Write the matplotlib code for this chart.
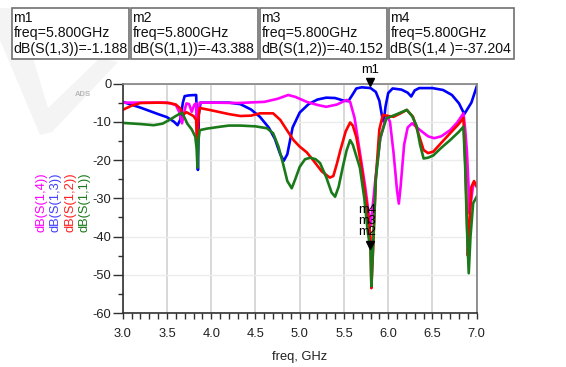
import matplotlib
matplotlib.use("Agg")
import matplotlib.pyplot as plt
from matplotlib.patches import Rectangle, Polygon
from matplotlib.transforms import offset_copy

plt.rcParams['font.family'] = ['Liberation Sans', 'DejaVu Sans']

# S(1,3) - blue
f13 = [3.0, 3.2, 3.4, 3.5, 3.58, 3.62, 3.65, 3.68, 3.70, 3.75, 3.83, 3.84, 3.85, 3.86, 3.88,
       4.0, 4.2, 4.33, 4.45, 4.55, 4.65, 4.72, 4.78, 4.82, 4.86, 4.92, 5.0, 5.1, 5.2, 5.3,
       5.4, 5.5, 5.55, 5.6, 5.64, 5.7, 5.8, 5.86, 5.9, 5.93, 5.95, 5.97, 6.0, 6.05, 6.15,
       6.22, 6.26, 6.30, 6.35, 6.5, 6.62, 6.72, 6.8, 6.86, 6.9, 6.94, 7.0]
s13 = [-4.8, -6.3, -8.0, -8.8, -10.0, -10.9, -9.5, -5.0, -3.3, -3.1, -3.0, -10, -22.6, -8, -5.0,
       -5.0, -5.0, -5.4, -6.8, -8.7, -11.5, -14.5, -18.5, -20.2, -18.5, -11.5, -7.6, -5.4, -4.2, -3.7,
       -3.8, -4.5, -4.6, -2.8, -1.3, -1.0, -1.19, -2.2, -4.5, -8.5, -10.0, -6.0, -2.5, -1.3, -1.6,
       -2.4, -3.4, -1.8, -1.2, -1.2, -1.7, -3.0, -5.2, -8.0, -6.5, -5.0, -0.8]

# S(1,4) - magenta
f14 = [3.0, 3.2, 3.5, 3.6, 3.64, 3.67, 3.70, 3.72, 3.75, 3.78, 3.81, 3.83, 3.84, 3.855, 3.87,
       4.0, 4.3, 4.6, 4.75, 4.87, 4.95, 5.08, 5.2, 5.3, 5.42, 5.53, 5.57, 5.62, 5.66, 5.70,
       5.74, 5.78, 5.80, 5.82, 5.86, 5.91, 5.96, 5.99, 6.02, 6.06, 6.10, 6.12, 6.14, 6.18, 6.22,
       6.27, 6.35, 6.45, 6.52, 6.6, 6.7, 6.78, 6.85, 6.87, 6.89, 6.91, 6.92, 6.94, 6.96, 7.0]
s14 = [-5.0, -5.0, -5.0, -5.6, -7.5, -10.4, -7.0, -5.2, -5.4, -7.4, -5.5, -5.2, -14, -8, -5.0,
       -5.0, -5.1, -4.8, -4.0, -3.0, -3.5, -4.8, -5.6, -6.1, -5.5, -4.3, -4.8, -9, -15, -21,
       -27, -34, -37.2, -33, -24, -14.5, -10.0, -8.5, -10, -18, -28, -31.4, -27, -16, -11.5,
       -10.4, -12, -13.8, -14.3, -13.8, -12.2, -10.2, -7.8, -12, -18, -28, -34, -30, -26.6, -26]

# S(1,2) - red
f12 = [3.0, 3.1, 3.2, 3.4, 3.53, 3.6, 3.65, 3.68, 3.72, 3.76, 3.80, 3.83, 3.84, 3.855, 3.87,
       4.0, 4.2, 4.33, 4.45, 4.55, 4.70, 4.78, 4.85, 4.93, 5.0, 5.08, 5.15, 5.25, 5.34, 5.38,
       5.42, 5.46, 5.52, 5.57, 5.60, 5.64, 5.70, 5.76, 5.79, 5.80, 5.81, 5.83, 5.86, 5.9, 5.94,
       6.0, 6.06, 6.14, 6.21, 6.28, 6.34, 6.40, 6.45, 6.51, 6.6, 6.7, 6.8, 6.85, 6.87, 6.89,
       6.90, 6.92, 6.94, 6.97, 7.0]
s12 = [-6.9, -5.8, -5.1, -5.0, -5.1, -5.5, -6.5, -8.2, -7.5, -8.0, -8.5, -9.5, -15, -9, -6.4,
       -7.0, -8.0, -8.5, -8.4, -7.8, -7.8, -9.5, -12, -14.8, -16.5, -18, -20, -23, -24.6, -24.2,
       -21, -17.4, -12.5, -10.2, -11, -14, -22, -32, -38, -40.2, -53.5, -43, -25, -12, -8.2,
       -8.5, -8.7, -7.8, -6.9, -8.7, -13, -17.4, -18.2, -17.8, -15.5, -13, -10.5, -9.0, -20, -35,
       -45, -36, -27, -25.5, -27]

# S(1,1) - green
f11 = [3.0, 3.2, 3.35, 3.45, 3.53, 3.6, 3.67, 3.70, 3.73, 3.78, 3.82, 3.835, 3.845, 3.855, 3.87,
       3.95, 4.1, 4.2, 4.33, 4.5, 4.63, 4.70, 4.76, 4.81, 4.86, 4.91, 4.95, 5.0, 5.06, 5.12,
       5.18, 5.23, 5.30, 5.36, 5.40, 5.44, 5.49, 5.53, 5.57, 5.60, 5.64, 5.68, 5.73, 5.77, 5.80,
       5.81, 5.83, 5.86, 5.91, 5.98, 6.1, 6.21, 6.27, 6.32, 6.36, 6.40, 6.45, 6.51, 6.6, 6.7,
       6.8, 6.85, 6.87, 6.89, 6.91, 6.93, 6.96, 7.0]
s11 = [-10.3, -10.6, -10.9, -10.5, -9.5, -8.5, -7.6, -9, -10.5, -12.0, -13.9, -17, -22, -15, -12.2,
       -11.8, -11.3, -11.0, -11.0, -11.2, -11.7, -13, -16.5, -20.8, -25.5, -27.4, -25, -21.8, -19.8, -19.4,
       -19.8, -20.8, -24.5, -28.5, -29.6, -27, -21.5, -17.5, -14.8, -16, -19, -22, -30, -39, -43.4,
       -53, -42, -25, -14.2, -9.1, -8.0, -6.9, -8.5, -11, -16, -19.6, -19.4, -18.8, -16.8, -14.8,
       -12.6, -11.3, -22, -38, -49.6, -40, -31.3, -29.6]

marker_freq = 5.8
marker_names = ['m1', 'm2', 'm3', 'm4']
marker_traces = ['dB(S(1,3))', 'dB(S(1,1))', 'dB(S(1,2))', 'dB(S(1,4 )']
marker_values = [-1.188, -43.388, -40.152, -37.204]

fig = plt.figure(figsize=(5.66, 3.67), dpi=100)
W, H = 566, 367

def fx(px):
    return px / W

def fy(py):
    return 1 - py / H

# faint watermark shape in the corner
wm = Polygon([(fx(0), fy(8)), (fx(0), fy(40)), (fx(40), fy(135)), (fx(52), fy(132)),
              (fx(118), fy(62)), (fx(100), fy(58)), (fx(48), fy(108)), (fx(18), fy(8))],
             closed=True, transform=fig.transFigure, facecolor='#f4f4f4', edgecolor='none', zorder=0)
fig.add_artist(wm)

ax = fig.add_axes([fx(122.7), fy(313), (476.7 - 122.7) / W, (313 - 83.5) / H])

ax.plot(f13, s13, color='#0000ff', lw=1.9)
ax.plot(f14, s14, color='#ff00ff', lw=1.9)
ax.plot(f12, s12, color='#ff0000', lw=1.9)
ax.plot(f11, s11, color='#1a7a1a', lw=1.9)

ax.set_xlim(3.0, 7.0)
ax.set_ylim(-60, 0)
ax.set_xticks([3.0, 3.5, 4.0, 4.5, 5.0, 5.5, 6.0, 6.5, 7.0])
ax.set_xticks([3.0 + 0.1 * i for i in range(41)], minor=True)
ax.set_yticks([0, -10, -20, -30, -40, -50, -60])
ax.set_yticks([-5, -15, -25, -35, -45, -55], minor=True)
ax.set_yticklabels(['0', '-10', '-20', '-30', '-40', '-50', '-60'])
ax.grid(True, which='major', axis='x', color='#d6d6d6', lw=1.3)
ax.grid(True, which='major', axis='y', color='#ececec', lw=1.0)
ax.set_axisbelow(True)

ax.tick_params(axis='x', which='both', direction='out', length=4, width=1, color='#303030',
               labelsize=9.3, pad=6.5, labelcolor='#202020')
ax.tick_params(axis='y', which='major', direction='out', length=7.2, width=1, color='#303030',
               labelsize=9.3, pad=1, labelcolor='#202020')
ax.tick_params(axis='y', which='minor', direction='out', length=3.6, width=1, color='#303030')
for s in ['left', 'bottom']:
    ax.spines[s].set_color('#303030')
for s in ['top', 'right']:
    ax.spines[s].set_color('#808080')
for s in ax.spines.values():
    s.set_linewidth(1.2)

ax.set_xlabel('freq, GHz', fontsize=9.3, labelpad=8, color='#202020')

# rotated trace labels
trace_labels = ['dB(S(1,4))', 'dB(S(1,3))', 'dB(S(1,2))', 'dB(S(1,1))']
trace_colors = ['#ff00ff', '#4040ff', '#ff2020', '#1a7a1a']
for i, (lab, c) in enumerate(zip(trace_labels, trace_colors)):
    fig.text(fx(41.7 + 14.2 * i), fy(202), lab, rotation=90, color=c, fontsize=9.3,
             ha='center', va='center')

fig.text(fx(83), fy(94), 'ADS', color='#b8b8b8', fontsize=5.5, fontweight='bold',
         ha='center', va='center')

# markers
m1_tri = offset_copy(ax.transData, fig=fig, x=0, y=4, units='points')
ax.plot([marker_freq], [marker_values[0]], marker='v', color='black', ms=6,
        transform=m1_tri, clip_on=False, zorder=5)
ax.annotate(marker_names[0], (marker_freq, marker_values[0]), xytext=(0, 9),
            textcoords='offset points', ha='center', va='bottom', fontsize=9.3,
            annotation_clip=False)
m2_tri = offset_copy(ax.transData, fig=fig, x=0, y=3, units='points')
ax.plot([marker_freq], [marker_values[1]], marker='v', color='black', ms=6,
        transform=m2_tri, zorder=5)
for k, name in enumerate(['m2', 'm3', 'm4']):
    ax.annotate(name, (marker_freq, marker_values[1]), xytext=(-9, 8 + 8 * k),
                textcoords='offset points', ha='left', va='bottom', fontsize=9.3, zorder=6)

# marker readout boxes
box_edges = [12, 131, 260, 389, 516]
for i in range(4):
    x0, x1 = box_edges[i], box_edges[i + 1] - 2
    rect = Rectangle((fx(x0), fy(59)), (x1 - x0) / W, 51 / H, transform=fig.transFigure,
                     facecolor='white', edgecolor='#707070', lw=1.2)
    fig.add_artist(rect)
    lines = [marker_names[i], 'freq=%.3fGHz' % marker_freq,
             '%s=%.3f' % (marker_traces[i], marker_values[i])]
    for j, t in enumerate(lines):
        fig.text(fx(x0 + 1.5), fy(22.5 + 15 * j), t, fontsize=10.2, ha='left',
                 va='baseline', color='#101010')

fig.savefig('out.png', dpi=100)
